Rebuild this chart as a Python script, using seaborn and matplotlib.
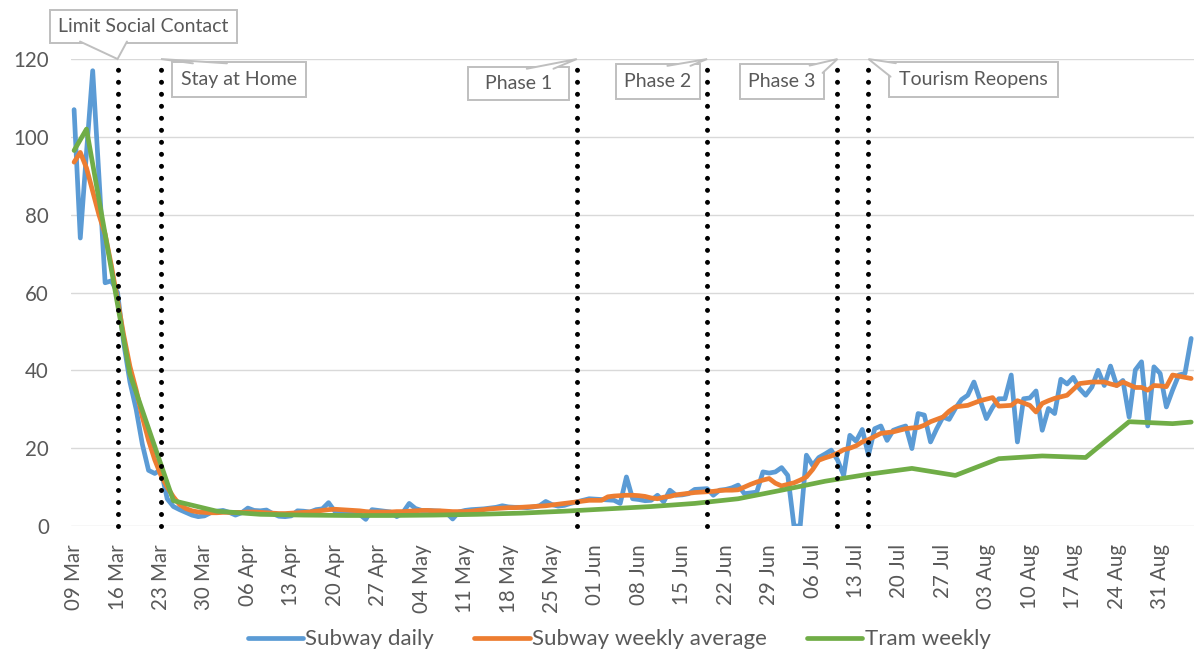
import matplotlib
matplotlib.use("Agg")
import matplotlib.pyplot as plt
import matplotlib.dates as mdates
import matplotlib.transforms as mtransforms
from matplotlib.patches import Rectangle, Polygon
from matplotlib.lines import Line2D
import numpy as np
import pandas as pd
import seaborn as sns

# ---------------- data ----------------
start_date = "2020-03-09"
end_date = "2020-09-05"

subway_daily = [
    107, 74, 96, 117, 90, 62.5, 63, 60, 47, 37,
    30, 21, 14.3, 13.5, 14.5, 7, 5, 4.2, 3.5, 2.8,
    2.4, 2.6, 3.4, 3.8, 4.0, 3.5, 2.8, 3.4, 4.6, 4.0,
    3.9, 4.1, 3.2, 2.5, 2.4, 2.6, 3.9, 3.8, 3.6, 4.2,
    4.4, 6.0, 3.8, 3.7, 3.6, 3.4, 3.0, 1.7, 4.2, 4.0,
    3.8, 3.6, 2.4, 3.5, 5.8, 4.5, 4.0, 4.0, 3.9, 3.8,
    3.4, 1.8, 3.6, 4.0, 4.2, 4.3, 4.4, 4.6, 4.8, 5.2,
    4.9, 4.8, 4.8, 4.7, 4.9, 5.2, 6.3, 5.5, 5.1, 5.3,
    5.8, 6.2, 6.6, 7.0, 6.9, 6.8, 6.7, 6.6, 5.8, 12.6,
    7.0, 6.8, 6.5, 6.6, 7.9, 6.2, 9.2, 7.9, 8.0, 8.3,
    9.4, 9.5, 9.6, 7.9, 9.2, 9.4, 9.8, 10.5, 8.3, 8.5,
    8.7, 13.9, 13.6, 13.9, 15.0, 13.0, 0, 0, 18.2, 15.6,
    17.6, 18.5, 19.5, 17.0, 13.0, 23.3, 21.8, 24.8, 18.2, 25.0,
    25.7, 22.0, 24.6, 25.2, 25.7, 19.9, 28.9, 28.5, 21.6, 25.0,
    28.0, 27.4, 30.2, 32.5, 33.6, 37.0, 32.3, 27.6, 30.5, 32.7,
    32.7, 38.8, 21.6, 32.7, 32.9, 34.7, 24.6, 30.2, 28.9, 37.7,
    36.5, 38.2, 35.3, 33.6, 35.7, 40.0, 36.1, 41.1, 36.1, 37.4,
    28.0, 40.1, 42.2, 25.7, 40.9, 39.2, 30.6, 34.9, 38.8, 39.2,
    48.2,
]

subway_weekly_avg = [
    93.5, 96, 92, 86, 80, 75, 67, 58, 49, 41,
    35, 28, 22, 17, 13, 10, 7.5, 5.5, 4.5, 3.9,
    3.6, 3.5, 3.4, 3.4, 3.5, 3.5, 3.5, 3.5, 3.6, 3.6,
    3.5, 3.4, 3.3, 3.2, 3.2, 3.3, 3.4, 3.5, 3.6, 3.8,
    4.0, 4.2, 4.3, 4.2, 4.1, 4.0, 3.9, 3.7, 3.6, 3.6,
    3.6, 3.6, 3.7, 3.7, 3.8, 3.9, 4.0, 4.0, 3.9, 3.9,
    3.8, 3.7, 3.7, 3.7, 3.8, 4.0, 4.2, 4.4, 4.5, 4.6,
    4.7, 4.7, 4.8, 4.9, 5.0, 5.1, 5.2, 5.4, 5.6, 5.8,
    6.0, 6.2, 6.4, 6.6, 6.6, 6.6, 7.5, 7.7, 7.8, 7.9,
    7.9, 7.8, 7.6, 7.2, 7.0, 7.4, 7.6, 8.0, 8.2, 8.4,
    8.6, 8.7, 8.8, 8.9, 9.1, 9.2, 9.2, 9.3, 10.0, 10.7,
    11.3, 11.8, 12.2, 11.0, 10.3, 10.7, 11.1, 11.8, 12.6, 14.5,
    16.9, 17.5, 18.0, 18.7, 19.6, 20.0, 20.6, 21.6, 22.2, 23.0,
    23.8, 24.0, 24.2, 24.6, 25.0, 25.2, 25.3, 25.9, 26.8, 27.4,
    28.0, 29.5, 30.6, 30.8, 31.0, 31.6, 32.2, 32.6, 33.0, 30.8,
    30.9, 31.0, 32.2, 31.6, 31.0, 29.3, 31.5, 32.2, 32.8, 33.2,
    33.6, 35.1, 36.6, 36.8, 37.0, 37.0, 37.0, 36.5, 36.1, 37.0,
    36.3, 35.6, 35.6, 34.9, 36.1, 36.0, 35.8, 38.8, 38.5, 38.2,
    37.9,
]

tram_dates = [
    "2020-03-09", "2020-03-11", "2020-03-18", "2020-03-25", "2020-04-01",
    "2020-04-08", "2020-04-15", "2020-04-22", "2020-04-29", "2020-05-06",
    "2020-05-13", "2020-05-20", "2020-05-27", "2020-06-03", "2020-06-10",
    "2020-06-17", "2020-06-24", "2020-07-01", "2020-07-08", "2020-07-15",
    "2020-07-22", "2020-07-29", "2020-08-05", "2020-08-12", "2020-08-19",
    "2020-08-26", "2020-09-02", "2020-09-05",
]
tram_weekly = [
    96.5, 102, 39, 6.5, 3.8,
    3.0, 2.8, 2.7, 2.7, 2.8,
    3.0, 3.3, 3.8, 4.4, 5.0,
    5.8, 7.0, 9.2, 11.5, 13.3,
    14.8, 13.0, 17.3, 18.0, 17.6,
    26.8, 26.3, 26.7,
]

event_dates = ["2020-03-16", "2020-03-23", "2020-05-29", "2020-06-19", "2020-07-10", "2020-07-15"]
event_labels = ["Limit Social Contact", "Stay at Home", "Phase 1", "Phase 2", "Phase 3", "Tourism Reopens"]

series_names = ["Subway daily", "Subway weekly average", "Tram weekly"]
series_colors = ["#5B9BD5", "#ED7D31", "#70AD47"]

# callout geometry in points, relative to the top of each event line (y up)
callout_boxes = [  # (x0, y0, width, height)
    (-48.6, 11.5, 134.6, 23.8),
    (7.7, -27.1, 96.5, 25.0),
    (-78.3, -29.5, 72.7, 23.5),
    (-65.3, -28.8, 60.0, 25.0),
    (-70.3, -28.8, 60.7, 25.2),
    (14.8, -27.1, 121.7, 25.2),
]
callout_pointer_bases = [
    ((-27.0, 12.6), (6.8, 12.6)),
    ((23.0, -3.1), (47.5, -3.1)),
    ((-36.0, -7.0), (-16.8, -7.0)),
    ((-28.6, -4.9), (-12.0, -4.9)),
    ((-20.0, -4.7), (-10.7, -10.0)),
    ((15.9, -12.7), (19.7, -3.0)),
]

# ---------------- plot ----------------
sns.set_theme(style="white")
plt.rcParams["font.family"] = ["Lato", "DejaVu Sans"]

grey_txt = "#595959"
grey_box = "#BFBFBF"
fs_box = 14
fs_tick = 14.8

days = pd.date_range(start_date, end_date, freq="D")
df = pd.DataFrame({"date": days, "daily": subway_daily, "avg": subway_weekly_avg})
tram = pd.DataFrame({"date": pd.to_datetime(tram_dates), "tram": tram_weekly})

fig = plt.figure(figsize=(11.95, 6.53), dpi=100)
ax = fig.add_axes([0.0594, 0.1945, 0.9400, 0.7151])

line_kw = dict(linewidth=3.4, solid_joinstyle="round", solid_capstyle="round")
sns.lineplot(data=df, x="date", y="daily", ax=ax, color=series_colors[0],
             label=series_names[0], **line_kw)
sns.lineplot(data=df, x="date", y="avg", ax=ax, color=series_colors[1],
             label=series_names[1], **line_kw)
sns.lineplot(data=tram, x="date", y="tram", ax=ax, color=series_colors[2],
             label=series_names[2], **line_kw)

ax.set_ylim(0, 120)
ax.set_xlim(days[0] - pd.Timedelta(hours=12), days[-1] + pd.Timedelta(hours=12))

# event lines
for d in event_dates:
    ax.axvline(pd.Timestamp(d), ymin=0, ymax=1, color="black", linewidth=3.6,
               linestyle=(0, (0.001, 2.4)), dash_capstyle="round", clip_on=False,
               zorder=5)

# callouts (box + pointer)
pt_scale = mtransforms.Affine2D().scale(fig.dpi / 72.0)
for d, lab, box, base in zip(event_dates, event_labels, callout_boxes, callout_pointer_bases):
    xnum = mdates.date2num(pd.Timestamp(d))
    tr = pt_scale + mtransforms.ScaledTranslation(xnum, 120, ax.transData)
    x0, y0, w, h = box
    ax.add_patch(Rectangle((x0, y0), w, h, transform=tr, fc="white", ec=grey_box,
                           lw=1.4, clip_on=False, zorder=9))
    (b1, b2) = base
    ax.add_patch(Polygon([b1, (0, 0), b2], closed=True, transform=tr, fc="white",
                         ec="none", clip_on=False, zorder=10))
    ax.add_line(Line2D([b1[0], 0, b2[0]], [b1[1], 0, b2[1]], transform=tr,
                       color=grey_box, lw=1.4, clip_on=False, zorder=10,
                       solid_joinstyle="miter"))
    ax.text(x0 + w / 2, y0 + h / 2, lab, transform=tr, ha="center", va="center",
            fontsize=fs_box, color=grey_txt, zorder=11, clip_on=False)

ax.set_yticks(np.arange(0, 121, 20))
ax.xaxis.set_major_locator(mdates.WeekdayLocator(byweekday=mdates.MO))
ax.xaxis.set_major_formatter(mdates.DateFormatter("%d %b"))
ax.tick_params(axis="x", rotation=90, length=0, pad=13, labelsize=fs_tick, labelcolor=grey_txt)
ax.tick_params(axis="y", length=0, pad=16, labelsize=fs_tick, labelcolor=grey_txt)
ax.set_xlabel("")
ax.set_ylabel("")
ax.grid(axis="y", color="#D9D9D9", linewidth=1.0)
ax.grid(axis="x", visible=False)
for s in ax.spines.values():
    s.set_visible(False)

handles, labels = ax.get_legend_handles_labels()
ax.get_legend().remove()
fig.legend(handles, labels, loc="center", bbox_to_anchor=(0.518, 0.021), ncol=3,
           frameon=False, fontsize=16, labelcolor=grey_txt, handlelength=2.5,
           handletextpad=0.1, columnspacing=1.8)

fig.savefig("out.png", dpi=100)
